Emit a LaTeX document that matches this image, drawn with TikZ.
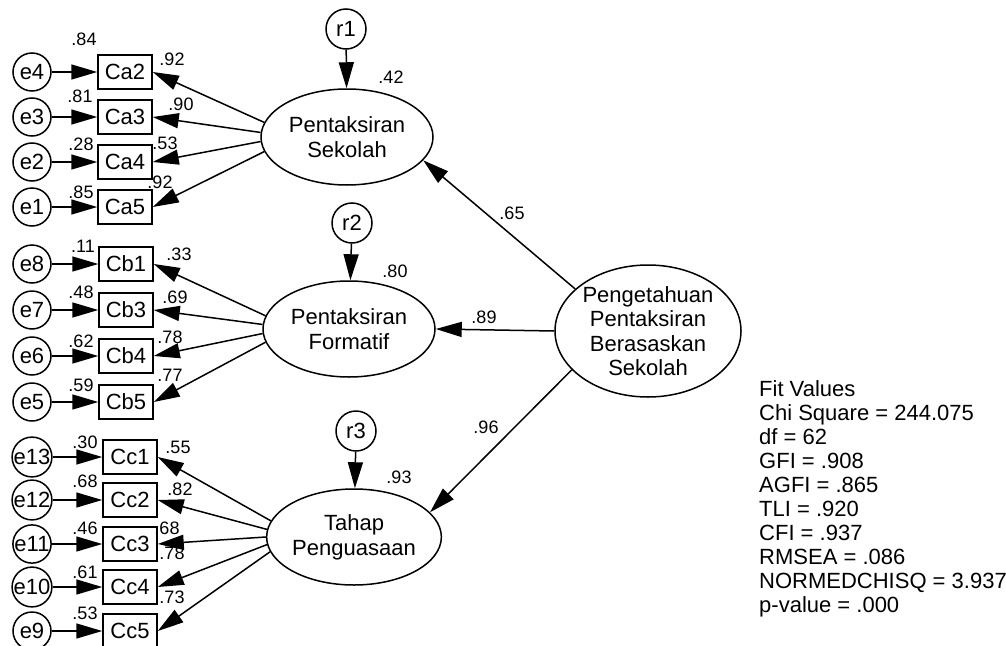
\documentclass[tikz,border=0pt]{standalone}
\usepackage{fontspec}
\setmainfont{Liberation Sans}
\usetikzlibrary{arrows.meta,shapes.geometric}

\tikzset{
  obs/.style={draw, line width=1.5pt, minimum width=54pt, minimum height=34pt,
    inner sep=0pt, font=\fontsize{22}{25}\selectfont},
  err/.style={draw, circle, line width=1.5pt, minimum size=38pt, inner sep=0pt,
    font=\fontsize{22}{25}\selectfont},
  res/.style={err, minimum size=40pt},
  lat/.style={draw, ellipse, line width=1.5pt, minimum width=172pt,
    minimum height=96pt, inner sep=0pt, align=center,
    font=\fontsize{22}{25}\selectfont},
  est/.style={inner sep=0pt, font=\fontsize{18}{20}\selectfont},
  arr/.style={line width=1.5pt, -{Triangle[length=26pt,width=15pt]}},
}

\begin{document}
\begin{tikzpicture}[x=1pt,y=-1pt]
  \useasboundingbox (0,0) rectangle (1006,645);

  % latent variables
  \node[lat] (sek) at (347,137) {Pentaksiran\\Sekolah};
  \node[lat] (for) at (349,329) {Pentaksiran\\Formatif};
  \node[lat] (tah) at (354,537) {Tahap\\Penguasaan};
  \node[lat, minimum width=186pt, minimum height=132pt, font=\fontsize{22}{24.5}\selectfont]
    (main) at (648,331) {Pengetahuan\\Pentaksiran\\Berasaskan\\Sekolah};

  % residuals
  \node[res] (r1) at (346,29) {r1};
  \node[res] (r2) at (352,223) {r2};
  \node[res] (r3) at (356,431) {r3};

  % indicators Ca
  \node[obs] (ca2) at (125,72) {Ca2};
  \node[obs] (ca3) at (125,117) {Ca3};
  \node[obs] (ca4) at (125,162) {Ca4};
  \node[obs] (ca5) at (125,207) {Ca5};
  \node[err] (e4) at (32,72) {e4};
  \node[err] (e3) at (32,117) {e3};
  \node[err] (e2) at (32,162) {e2};
  \node[err] (e1) at (32,207) {e1};

  % indicators Cb
  \node[obs] (cb1) at (126,264) {Cb1};
  \node[obs] (cb3) at (126,310) {Cb3};
  \node[obs] (cb4) at (126,356) {Cb4};
  \node[obs] (cb5) at (126,402) {Cb5};
  \node[err] (e8) at (32,264) {e8};
  \node[err] (e7) at (32,310) {e7};
  \node[err] (e6) at (32,356) {e6};
  \node[err] (e5) at (32,402) {e5};

  % indicators Cc
  \node[obs] (cc1) at (130,457) {Cc1};
  \node[obs] (cc2) at (130,500) {Cc2};
  \node[obs] (cc3) at (130,544) {Cc3};
  \node[obs] (cc4) at (130,587) {Cc4};
  \node[obs] (cc5) at (130,631) {Cc5};
  \node[err] (e13) at (32,457) {e13};
  \node[err] (e12) at (32,500) {e12};
  \node[err] (e11) at (32,544) {e11};
  \node[err] (e10) at (32,587) {e10};
  \node[err] (e9) at (32,631) {e9};

  % structural paths
  \draw[arr] (main.150) -- (sek.-17);
  \draw[arr] (main.west) -- (for.east);
  \draw[arr] (main.-153) -- (tah.18);
  \draw[arr] (r1) -- (sek);
  \draw[arr] (r2) -- (for);
  \draw[arr] (r3) -- (tah);

  % measurement paths
  \draw[arr] (sek.170) -- (ca2.east);
  \draw[arr] (sek.177) -- (ca3.east);
  \draw[arr] (sek.183) -- (ca4.east);
  \draw[arr] (sek.190) -- (ca5.east);
  \draw[arr] (for.171) -- (cb1.east);
  \draw[arr] (for.177) -- (cb3.east);
  \draw[arr] (for.183) -- (cb4.east);
  \draw[arr] (for.189) -- (cb5.east);
  \draw[arr] (tah.169) -- (cc1.east);
  \draw[arr] (tah.175) -- (cc2.east);
  \draw[arr] (tah.180) -- (cc3.east);
  \draw[arr] (tah.185) -- (cc4.east);
  \draw[arr] (tah.190) -- (cc5.east);
  \draw[arr] (e4) -- (ca2);
  \draw[arr] (e3) -- (ca3);
  \draw[arr] (e2) -- (ca4);
  \draw[arr] (e1) -- (ca5);
  \draw[arr] (e8) -- (cb1);
  \draw[arr] (e7) -- (cb3);
  \draw[arr] (e6) -- (cb4);
  \draw[arr] (e5) -- (cb5);
  \draw[arr] (e13) -- (cc1);
  \draw[arr] (e12) -- (cc2);
  \draw[arr] (e11) -- (cc3);
  \draw[arr] (e10) -- (cc4);
  \draw[arr] (e9) -- (cc5);

  % estimates
  \node[est] (sq1) at (391,77) {.42};
  \node[est] (sq2) at (395,271) {.80};
  \node[est] (sq3) at (399,477) {.93};
  \node[est] (w1) at (512,213) {.65};
  \node[est] (w2) at (484,317) {.89};
  \node[est] (w3) at (486,427) {.96};

  \node[est] (sca2) at (84,39) {.84};
  \node[est] (lca2) at (172,59) {.92};
  \node[est] (sca3) at (80,96) {.81};
  \node[est] (lca3) at (181,104) {.90};
  \node[est] (sca4) at (81,144) {.28};
  \node[est] (lca4) at (165,143) {.53};
  \node[est] (sca5) at (81,192) {.85};
  \node[est] (lca5) at (160,182) {.92};

  \node[est] (scb1) at (83,246) {.11};
  \node[est] (lcb1) at (179,254) {.33};
  \node[est] (scb3) at (81,292) {.48};
  \node[est] (lcb3) at (175,297) {.69};
  \node[est] (scb4) at (81,341) {.62};
  \node[est] (lcb4) at (170,337) {.78};
  \node[est] (scb5) at (81,385) {.59};
  \node[est] (lcb5) at (170,375) {.77};

  \node[est] (scc1) at (85,442) {.30};
  \node[est] (lcc1) at (178,447) {.55};
  \node[est] (scc2) at (85,481) {.68};
  \node[est] (lcc2) at (180,489) {.82};
  \node[est] (scc3) at (85,528) {.46};
  \node[est] (lcc3) at (167,528) {.68};
  \node[est] (scc4) at (85,572) {.61};
  \node[est] (lcc4) at (172,553) {.78};
  \node[est] (scc5) at (85,613) {.53};
  \node[est] (lcc5) at (172,597) {.73};

  % fit values
  \node[anchor=north west, inner sep=0pt, align=left,
    font=\fontsize{22}{24}\selectfont] (fitval) at (759,380)
    {Fit Values\\Chi Square = 244.075\\df = 62\\GFI = .908\\AGFI = .865\\
     TLI = .920\\CFI = .937\\RMSEA = .086\\NORMEDCHISQ = 3.937\\p-value = .000};
\end{tikzpicture}
\end{document}
